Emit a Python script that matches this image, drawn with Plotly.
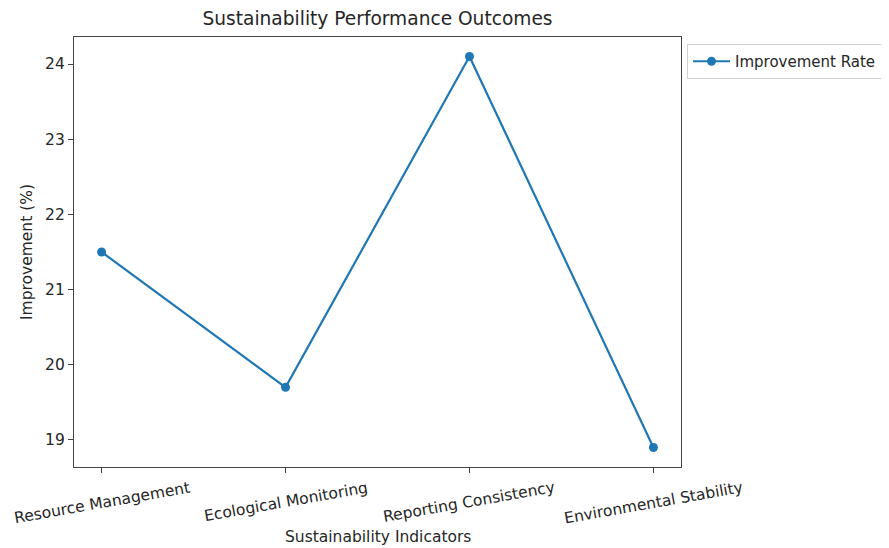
import plotly.graph_objects as go

categories = ["Resource Management", "Ecological Monitoring", "Reporting Consistency", "Environmental Stability"]
improvement = [21.5, 19.7, 24.1, 18.9]
y_ticks = [19, 20, 21, 22, 23, 24]

font = "DejaVu Sans"
tick_size = 15.5
text_color = "#262626"
OFF = 8  # page body margin in the browser
W, H = 889 - OFF, 548 - OFF
L, R, T, B = 74 - OFF, 681 - OFF, 37 - OFF, 467 - OFF
plot_h = B - T

fig = go.Figure()
fig.add_trace(go.Scatter(
    x=list(range(len(categories))), y=improvement, mode="lines+markers",
    name="Improvement Rate",
    line=dict(color="#1f77b4", width=2.2),
    marker=dict(color="#1f77b4", size=9),
))

# x tick labels: rotated, centred on each tick (matplotlib style)
for i, cat in enumerate(categories):
    fig.add_annotation(x=i, xref="x", y=0, yref="paper", text=cat, showarrow=False,
                       textangle=-10, xanchor="center", yanchor="top", yshift=-9,
                       font=dict(size=tick_size, color=text_color, family=font))
# x axis title
fig.add_annotation(x=0.5, xref="paper", y=-(537 - 467) / plot_h, yref="paper",
                   text="Sustainability Indicators", showarrow=False,
                   xanchor="center", yanchor="middle",
                   font=dict(size=tick_size, color=text_color, family=font))

lo, hi = min(improvement), max(improvement)
pad = (hi - lo) * 0.05
fig.update_layout(
    width=W, height=H,
    margin=dict(l=L, r=W - R, t=T, b=H - B, autoexpand=False),
    paper_bgcolor="white", plot_bgcolor="white",
    font=dict(family=font, size=tick_size, color=text_color),
    title=dict(text="Sustainability Performance Outcomes", x=(L + R) / 2 / W, xanchor="center",
               y=1 - (18 - OFF) / H, yanchor="middle", font=dict(size=18.6, color=text_color)),
    showlegend=True,
    legend=dict(x=(687 - 74) / (R - L), y=(467 - 44) / plot_h, xanchor="left", yanchor="top",
                bordercolor="#d0d0d0", borderwidth=1, bgcolor="white", itemwidth=37,
                font=dict(size=15, color=text_color)),
    xaxis=dict(
        tickmode="array", tickvals=list(range(len(categories))), ticktext=categories,
        showticklabels=False, automargin=False,
        range=[-0.15, len(categories) - 1 + 0.15],
        showgrid=False, zeroline=False, showline=True, linecolor="#444444", linewidth=1.2, mirror=True,
        ticks="outside", ticklen=5, tickcolor="#444444",
    ),
    yaxis=dict(
        tickmode="array", tickvals=y_ticks, ticktext=[str(v) for v in y_ticks],
        range=[lo - pad, hi + pad], automargin=False,
        showgrid=False, zeroline=False, showline=True, linecolor="#444444", linewidth=1.2, mirror=True,
        ticks="outside", ticklen=5, tickcolor="#444444",
        title=dict(text="Improvement (%)", standoff=8, font=dict(size=tick_size, color=text_color)),
    ),
)
fig.write_html("out.html")
